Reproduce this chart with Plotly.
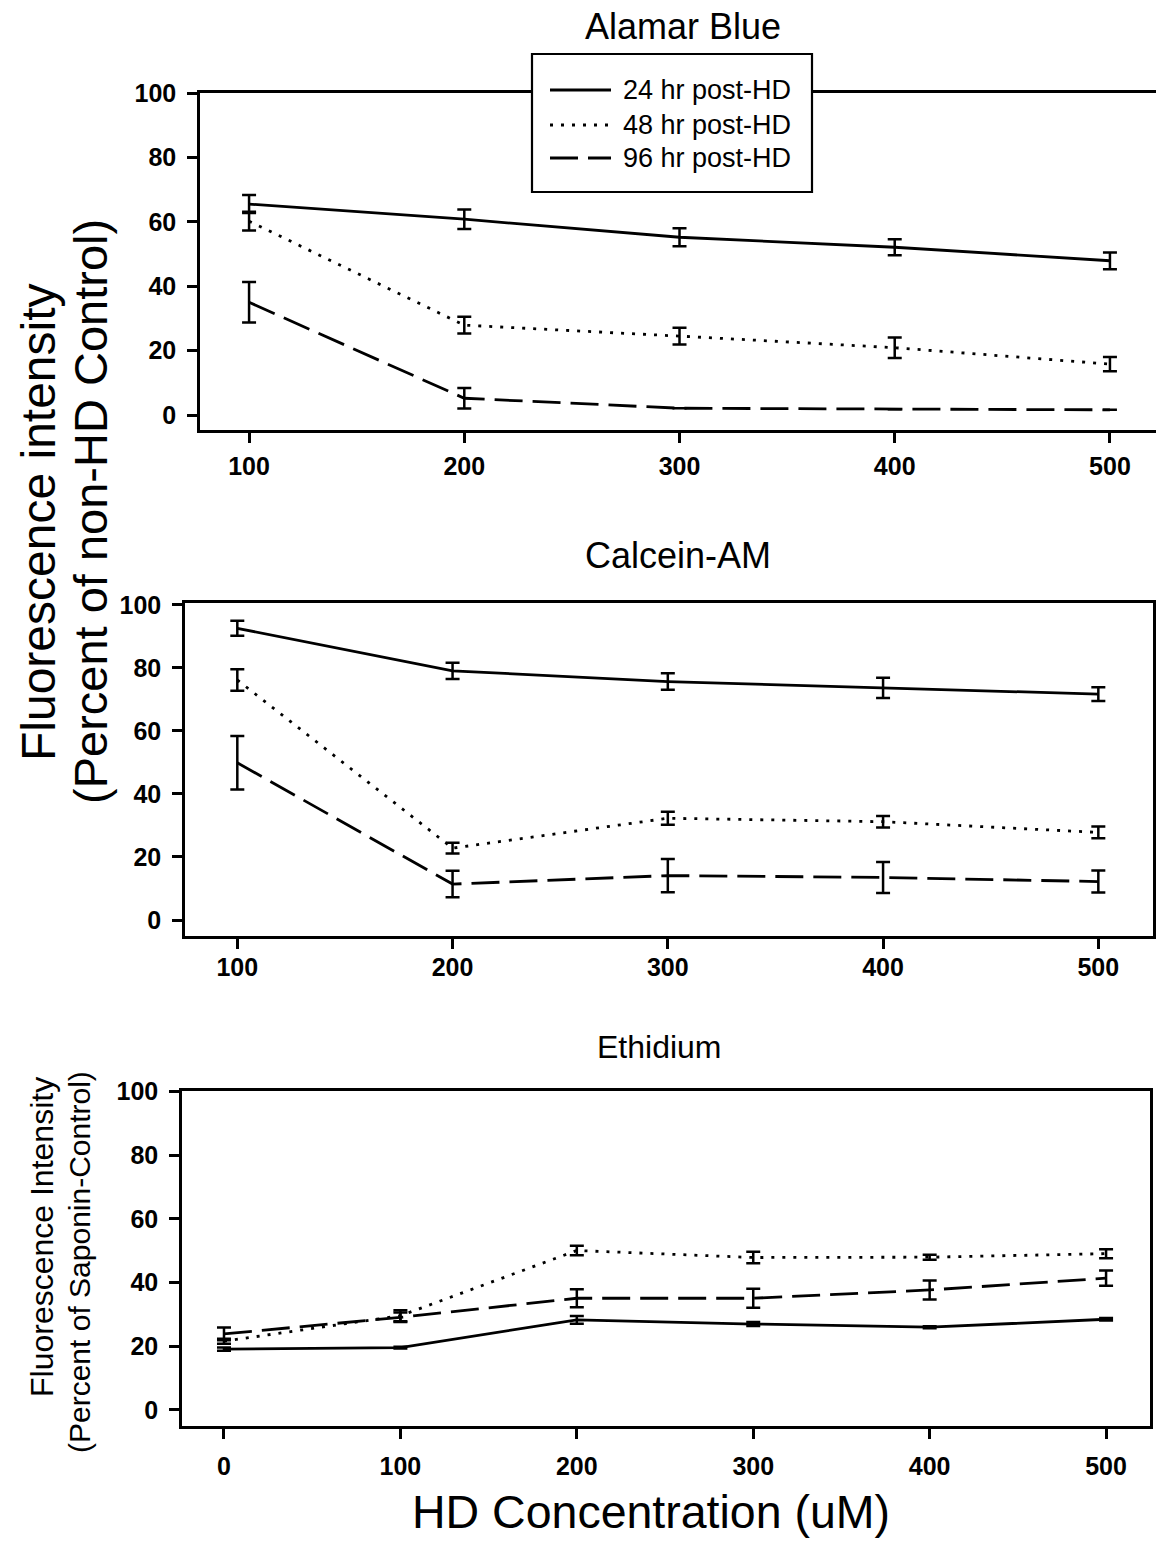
import plotly.graph_objects as go

# ---------------- data ----------------
conc_ab = [100, 200, 300, 400, 500]
ab_24 = [65.5, 60.8, 55.2, 52.1, 47.9]
ab_24_err = [2.8, 3.0, 2.8, 2.5, 2.6]
ab_48 = [60.2, 27.9, 24.5, 20.9, 15.8]
ab_48_err = [2.9, 2.6, 2.6, 3.2, 2.2]
ab_96 = [35.0, 5.2, 2.1, 1.8, 1.6]
ab_96_err = [6.3, 3.2, 0, 0, 0]

conc_cal = [100, 200, 300, 400, 500]
cal_24 = [92.6, 79.1, 75.7, 73.7, 71.7]
cal_24_err = [2.4, 2.6, 2.6, 3.2, 2.2]
cal_48 = [76.2, 22.8, 32.3, 31.2, 27.8]
cal_48_err = [3.4, 1.7, 2.1, 1.8, 1.85]
cal_96 = [49.9, 11.4, 14.1, 13.5, 12.2]
cal_96_err = [8.5, 4.2, 5.3, 4.9, 3.5]

conc_eth = [0, 100, 200, 300, 400, 500]
eth_24 = [19.1, 19.6, 28.3, 27.0, 26.0, 28.5]
eth_24_err = [0.5, 0.3, 1.2, 0.6, 0.3, 0.4]
eth_48 = [21.6, 29.6, 50.1, 47.9, 48.0, 49.1]
eth_48_err = [0.8, 1.7, 1.5, 1.8, 0.8, 1.4]
eth_96 = [23.9, 29.1, 35.1, 35.1, 37.7, 41.4]
eth_96_err = [2.0, 1.5, 2.8, 3.0, 3.0, 2.4]

series_names = ["24 hr post-HD", "48 hr post-HD", "96 hr post-HD"]
y_ticks = [0, 20, 40, 60, 80, 100]
x_ticks_top = [100, 200, 300, 400, 500]
x_ticks_eth = [0, 100, 200, 300, 400, 500]

# ---------------- layout helpers ----------------
W, H = 1156, 1555
FONT = "Liberation Sans, Arial, Helvetica, sans-serif"


def px_x(p):
    return p / W


def px_y(p):
    return 1 - p / H


dashes = ["solid", "3px,8px", "28px,10px"]

fig = go.Figure()

panels = [
    (conc_ab, [(ab_24, ab_24_err), (ab_48, ab_48_err), (ab_96, ab_96_err)], "x", "y"),
    (conc_cal, [(cal_24, cal_24_err), (cal_48, cal_48_err), (cal_96, cal_96_err)], "x2", "y2"),
    (conc_eth, [(eth_24, eth_24_err), (eth_48, eth_48_err), (eth_96, eth_96_err)], "x3", "y3"),
]

for pi, (xs, sers, xa, ya) in enumerate(panels):
    for si, (vals, errs) in enumerate(sers):
        fig.add_trace(go.Scatter(
            x=xs, y=vals, mode="lines", xaxis=xa, yaxis=ya,
            name=series_names[si], showlegend=False,
            line=dict(color="black", width=2.8, dash=dashes[si]),
            error_y=dict(type="data", array=errs, visible=True,
                         color="black", thickness=2.5, width=7),
        ))

axis_common = dict(
    showline=True, linecolor="black", linewidth=2.5,
    ticks="outside", ticklen=10, tickwidth=2.5, tickcolor="black",
    showgrid=False, zeroline=False, automargin=False,
    tickfont=dict(family=FONT, size=25, color="black", weight="bold"),
)

fig.update_layout(
    width=W, height=H,
    margin=dict(l=0, r=0, t=0, b=0, autoexpand=False),
    paper_bgcolor="white", plot_bgcolor="white",
    font=dict(family=FONT, color="black"),
    showlegend=False,
    # panel 1
    xaxis=dict(axis_common, domain=[px_x(200), 1.0], range=[77.2, 521.4],
               tickvals=x_ticks_top, anchor="y", mirror=True, ticklabelstandoff=2),
    yaxis=dict(axis_common, domain=[px_y(430), px_y(93)], range=[-4.66, 100],
               tickvals=y_ticks, anchor="x", mirror=False, ticklabelstandoff=6),
    # panel 2
    xaxis2=dict(axis_common, domain=[px_x(185), px_x(1153)], range=[75.7, 525.4],
                tickvals=x_ticks_top, anchor="y2", mirror=True, ticklabelstandoff=-3),
    yaxis2=dict(axis_common, domain=[px_y(936), px_y(603)], range=[-5.08, 100.63],
                tickvals=y_ticks, anchor="x2", mirror=True, ticklabelstandoff=6),
    # panel 3
    xaxis3=dict(axis_common, domain=[px_x(182), px_x(1150)], range=[-23.8, 524.9],
                tickvals=x_ticks_eth, anchor="y3", mirror=True, ticklabelstandoff=6),
    yaxis3=dict(axis_common, domain=[px_y(1426), px_y(1091)], range=[-5.03, 100.2],
                tickvals=y_ticks, anchor="x3", mirror=True, ticklabelstandoff=6),
)

# ---------------- legend (drawn in the top panel) ----------------
leg_x0, leg_x1, leg_y0, leg_y1 = 532, 812, 54, 192
fig.add_shape(type="rect", xref="paper", yref="paper",
              x0=px_x(leg_x0), x1=px_x(leg_x1), y0=px_y(leg_y1), y1=px_y(leg_y0),
              fillcolor="white", line=dict(color="black", width=2.2), layer="above")
row_y = [90, 125, 158]
for si, name in enumerate(series_names):
    fig.add_shape(type="line", xref="paper", yref="paper",
                  x0=px_x(550), x1=px_x(611), y0=px_y(row_y[si]), y1=px_y(row_y[si]),
                  line=dict(color="black", width=2.8, dash=dashes[si]), layer="above")
    fig.add_annotation(text=name, x=px_x(621), y=px_y(row_y[si]), xref="paper", yref="paper",
                       xanchor="left", yanchor="middle", showarrow=False,
                       font=dict(family=FONT, size=27, color="black"))

annotations = [
    dict(text="Alamar Blue", x=px_x(683), y=px_y(26), size=36),
    dict(text="Calcein-AM", x=px_x(678), y=px_y(555), size=36),
    dict(text="Ethidium", x=px_x(659), y=px_y(1047), size=32),
    dict(text="HD Concentration (uM)", x=px_x(651), y=px_y(1512), size=46.5),
]
for a in annotations:
    fig.add_annotation(text=a["text"], x=a["x"], y=a["y"], xref="paper", yref="paper",
                       xanchor="center", yanchor="middle", showarrow=False,
                       font=dict(family=FONT, size=a["size"], color="black"))

ytitles = [
    ("Fluorescence intensity", 38, 522, 48),
    ("(Percent of non-HD Control)", 91, 512, 47),
    ("Fluorescence Intensity", 42, 1237, 32),
    ("(Percent of Saponin-Control)", 79, 1262, 30),
]
for txt, cx, cy, sz in ytitles:
    fig.add_annotation(text=txt, x=px_x(cx), y=px_y(cy), xref="paper", yref="paper",
                       xanchor="center", yanchor="middle", showarrow=False, textangle=-90,
                       font=dict(family=FONT, size=sz, color="black"))

fig.write_html("out.html", config={"displayModeBar": False},
               post_script="document.body.style.margin='0';")
